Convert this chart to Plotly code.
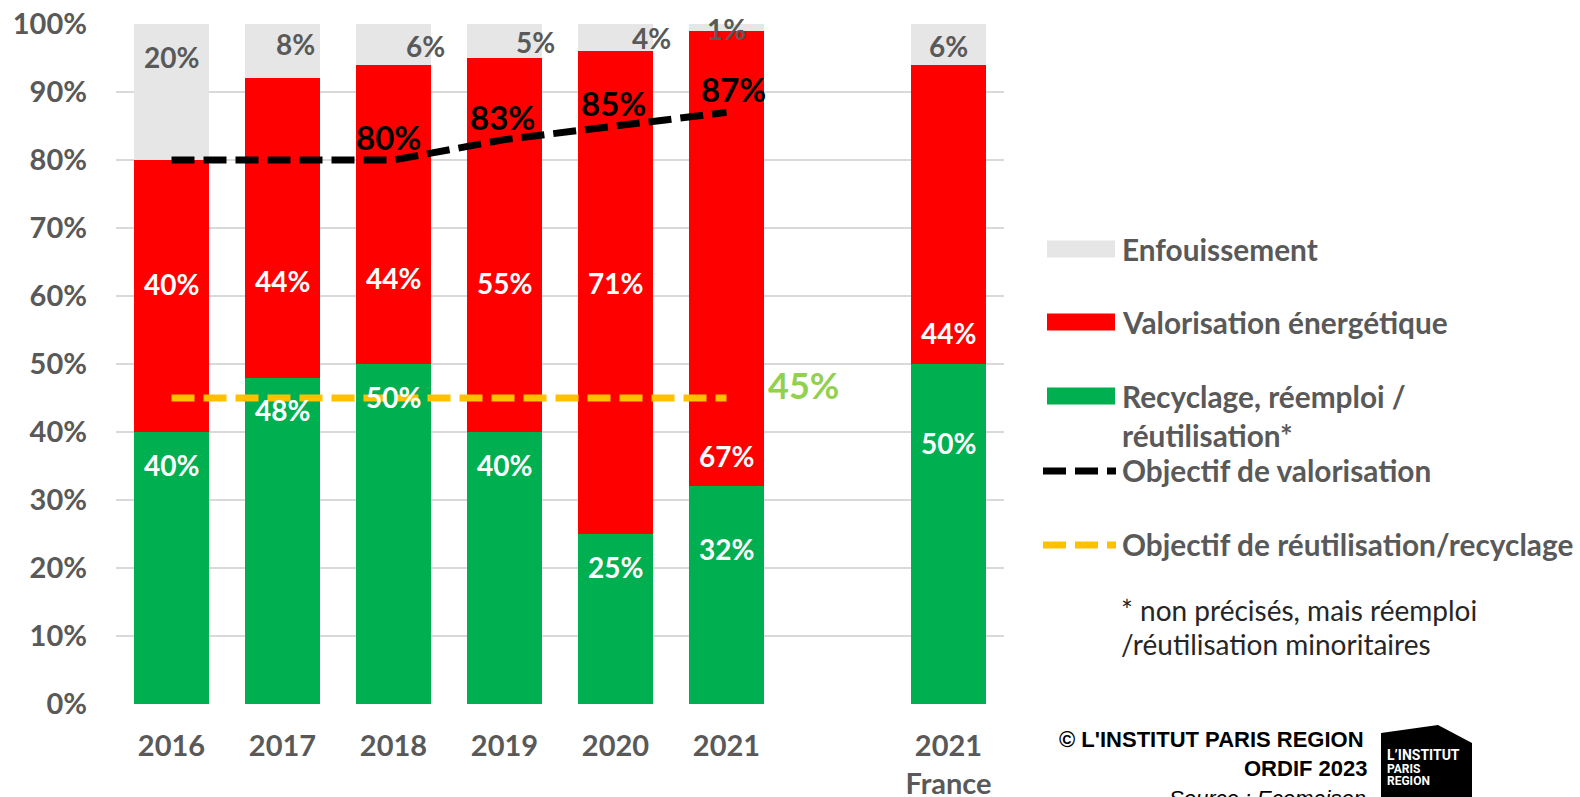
import plotly.graph_objects as go

# ---------------- data ----------------
categories = ["2016", "2017", "2018", "2019", "2020", "2021", "2021<br>France"]
cat_x = [0, 1, 2, 3, 4, 5, 7]          # slot 6 is left empty
recyclage = [40, 48, 50, 40, 25, 32, 50]        # Recyclage, réemploi / réutilisation*
valorisation = [40, 44, 44, 55, 71, 67, 44]     # Valorisation énergétique
enfouissement = [20, 8, 6, 5, 4, 1, 6]          # Enfouissement

obj_years_x = [0, 1, 2, 3, 4, 5]
obj_valorisation = [80, 80, 80, 83, 85, 87]
obj_recyclage = [45, 45, 45, 45, 45, 45]
obj_valo_label_idx = [2, 3, 4, 5]

y_ticks = [0, 10, 20, 30, 40, 50, 60, 70, 80, 90, 100]

# label placement (layout only)
green_lbl_y = [35.2, 43.2, 45.1, 35.2, 20.1, 22.8, 38.4]
red_lbl_y = [61.7, 62.2, 62.6, 61.9, 61.9, 36.5, 54.5]
grey_lbl_y = [95.1, 97.0, 96.7, 97.3, 97.9, 99.2, 96.7]
grey_lbl_dx = [0, 0.12, 0.29, 0.28, 0.32, 0, 0]
obj_lbl_xshift = [-5, -2, -2, 7]

# ---------------- style ----------------
FONT = "Lato"
GREY_TXT = "#595959"
C_GREY = "#E6E6E6"
C_RED = "#FF0000"
C_GREEN = "#00B050"
C_YELLOW = "#FFC000"
C_LGREEN = "#92D050"

# plot area in page pixels
L, R, T, B = 116, 1004, 24, 704
W, H = 1580, 797


def px(x):
    return (x - L) / (R - L)


def py(y):
    return (B - y) / (B - T)


fig = go.Figure()
fig.add_trace(go.Bar(x=cat_x, y=recyclage, marker_color=C_GREEN, width=0.667,
                     marker_line_width=0, name="Recyclage"))
fig.add_trace(go.Bar(x=cat_x, y=valorisation, marker_color=C_RED, width=0.667,
                     marker_line_width=0, name="Valorisation"))
fig.add_trace(go.Bar(x=cat_x, y=enfouissement, marker_color=C_GREY, width=0.667,
                     marker_line_width=0, name="Enfouissement"))
fig.add_trace(go.Scatter(x=obj_years_x, y=obj_recyclage, mode="lines",
                         line=dict(color=C_YELLOW, width=7, dash="23px,9px")))
fig.add_trace(go.Scatter(x=obj_years_x, y=obj_valorisation, mode="lines",
                         line=dict(color="black", width=7, dash="23px,9px")))

ann = []
for i, x in enumerate(cat_x):
    ann.append(dict(x=x, y=green_lbl_y[i], xref="x", yref="y", text=f"<b>{recyclage[i]}%</b>",
                    showarrow=False, font=dict(family=FONT, size=28, color="white")))
    ann.append(dict(x=x, y=red_lbl_y[i], xref="x", yref="y", text=f"<b>{valorisation[i]}%</b>",
                    showarrow=False, font=dict(family=FONT, size=28, color="white")))
    ann.append(dict(x=x + grey_lbl_dx[i], y=grey_lbl_y[i], xref="x", yref="y",
                    text=f"<b>{enfouissement[i]}%</b>",
                    showarrow=False, font=dict(family=FONT, size=28, color=GREY_TXT)))
for j, k in enumerate(obj_valo_label_idx):
    ann.append(dict(x=obj_years_x[k], y=obj_valorisation[k], xref="x", yref="y",
                    text=f"<b>{obj_valorisation[k]}%</b>", showarrow=False,
                    xshift=obj_lbl_xshift[j], yshift=23,
                    font=dict(family=FONT, size=33, color="black")))
ann.append(dict(x=obj_years_x[-1], y=obj_recyclage[-1], xref="x", yref="y",
                text=f"<b>{obj_recyclage[-1]}%</b>", showarrow=False, xshift=77, yshift=13,
                font=dict(family=FONT, size=36, color=C_LGREEN)))

# legend (manual)
leg_font = dict(family=FONT, size=29.8, color=GREY_TXT)
shapes = []
sw = [(249, C_GREY), (322, C_RED), (396, C_GREEN)]
for yc, c in sw:
    shapes.append(dict(type="rect", xref="paper", yref="paper", x0=px(1047), x1=px(1115),
                       y0=py(yc - 8.5), y1=py(yc + 8.5), fillcolor=c, line_width=0))
for yc, c in [(471, "black"), (545, C_YELLOW)]:
    shapes.append(dict(type="line", xref="paper", yref="paper", x0=px(1043), x1=px(1116),
                       y0=py(yc), y1=py(yc), line=dict(color=c, width=7, dash="23px,9px")))
leg_texts = [(249, "Enfouissement"), (322, "Valorisation énergétique"),
             (396, "Recyclage, réemploi /"), (435, "réutilisation*"),
             (470, "Objectif de valorisation"), (544, "Objectif de réutilisation/recyclage")]
for yc, t in leg_texts:
    ann.append(dict(x=px(1120), y=py(yc), xref="paper", yref="paper", text=f"<b>{t}</b>",
                    xanchor="left", yanchor="middle", showarrow=False, font=leg_font))
for yc, t in [(610, "* non précisés, mais réemploi"), (644, "/réutilisation minoritaires")]:
    ann.append(dict(x=px(1119), y=py(yc), xref="paper", yref="paper", text=t,
                    xanchor="left", yanchor="middle", showarrow=False,
                    font=dict(family=FONT, size=28, color="#262626")))

# credits
cred_font = dict(family="Liberation Sans", size=22, color="black")
ann.append(dict(x=px(1366), y=py(739), xref="paper", yref="paper", text="<b>© L'INSTITUT PARIS REGION</b>",
                xanchor="right", yanchor="middle", showarrow=False, font=cred_font))
ann.append(dict(x=px(1370), y=py(768), xref="paper", yref="paper", text="<b>ORDIF 2023</b>",
                xanchor="right", yanchor="middle", showarrow=False, font=cred_font))
ann.append(dict(x=px(1368), y=py(798), xref="paper", yref="paper", text="<i>Source : Ecomaison</i>",
                xanchor="right", yanchor="middle", showarrow=False,
                font=dict(family="Liberation Sans", size=22, color="black")))

# logo
pts = [(1381, 733), (1438, 725), (1472, 743), (1472, 800), (1381, 800)]
path = "M " + " L ".join(f"{px(a)},{py(b)}" for a, b in pts) + " Z"
shapes.append(dict(type="path", xref="paper", yref="paper", path=path,
                   fillcolor="black", line_width=0))
ann.append(dict(x=px(1385), y=py(755), xref="paper", yref="paper", text="<b>L’INSTITUT</b>",
                xanchor="left", yanchor="middle", showarrow=False,
                font=dict(family="Roboto", size=14, color="white")))
ann.append(dict(x=px(1385), y=py(769), xref="paper", yref="paper", text="<b>PARIS</b>",
                xanchor="left", yanchor="middle", showarrow=False,
                font=dict(family="Roboto", size=12, color="white")))
ann.append(dict(x=px(1385), y=py(781), xref="paper", yref="paper", text="<b>REGION</b>",
                xanchor="left", yanchor="middle", showarrow=False,
                font=dict(family="Roboto", size=12, color="white")))

fig.update_layout(
    width=W, height=H, barmode="stack", showlegend=False,
    margin=dict(l=L, r=W - R, t=T, b=H - B, pad=0, autoexpand=False),
    paper_bgcolor="white", plot_bgcolor="white",
    annotations=ann, shapes=shapes,
    xaxis=dict(range=[-0.5, 7.5], tickvals=cat_x, ticktext=[f"<b>{c}</b>" for c in categories],
               showgrid=False, zeroline=False, showline=False, ticks="", automargin=False,
               tickfont=dict(family=FONT, size=29, color=GREY_TXT), ticklabelstandoff=22,
               ticklabeloverflow="allow"),
    yaxis=dict(range=[0, 100], tickvals=y_ticks, ticktext=[f"<b>{v}%</b>" for v in y_ticks],
               showgrid=True, gridcolor="#D9D9D9", gridwidth=1.5, zeroline=False, showline=False,
               ticks="", automargin=False, ticklabeloverflow="allow",
               tickfont=dict(family=FONT, size=29, color=GREY_TXT), ticklabelstandoff=28),
)
fig.write_html("out.html", config={"displayModeBar": False},
               post_script="document.body.style.margin='0';document.body.style.overflow='hidden';")
